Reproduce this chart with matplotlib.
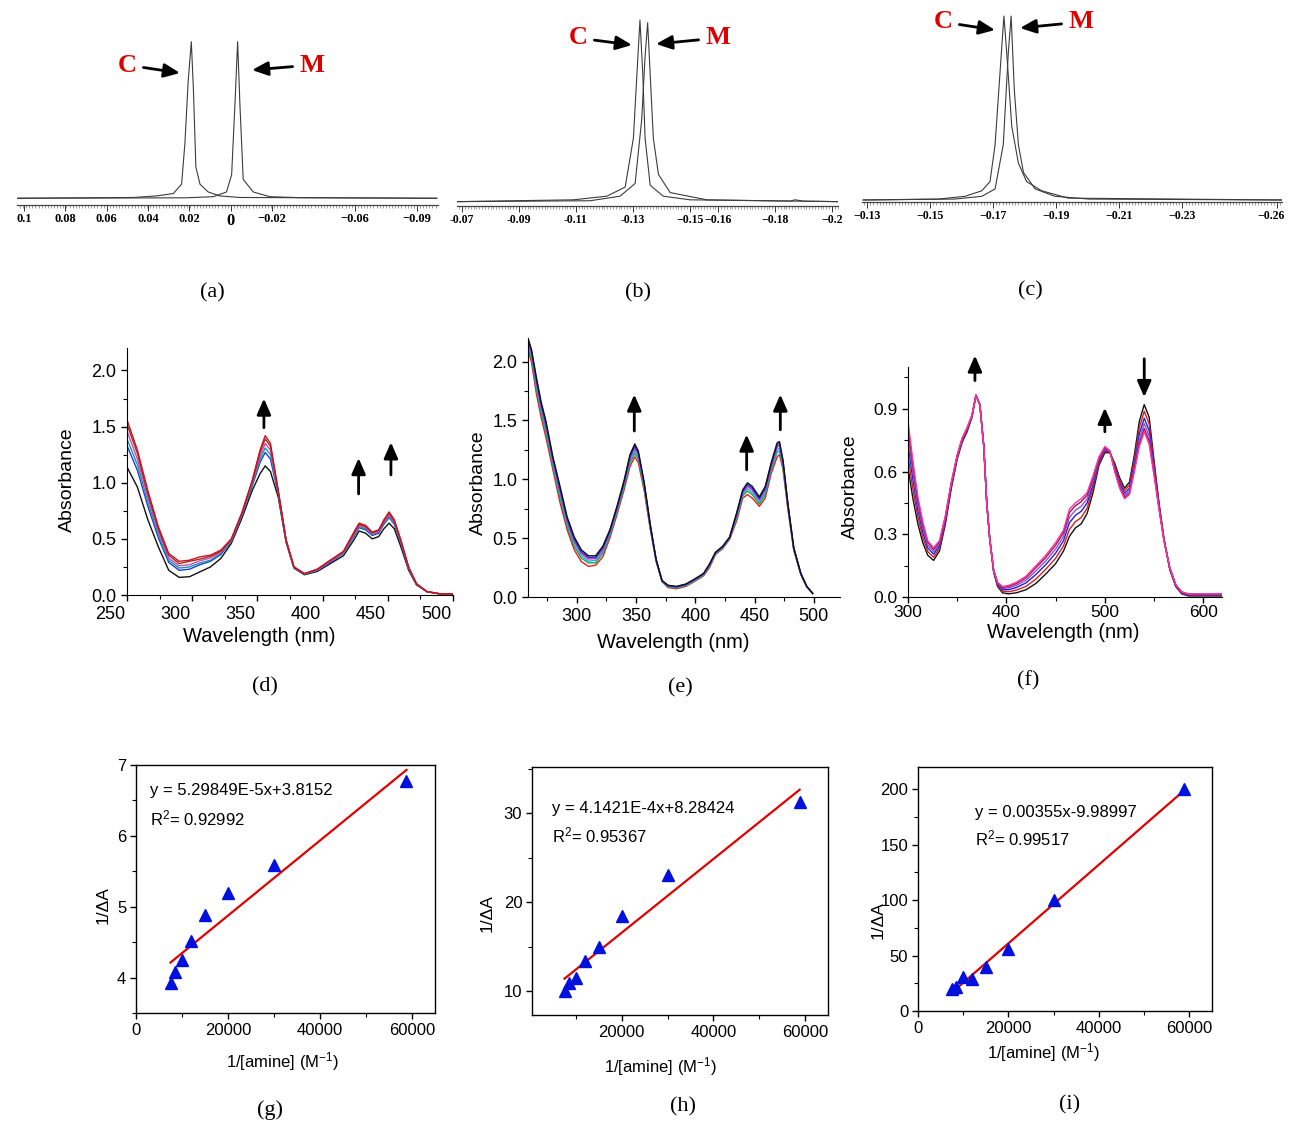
import matplotlib
matplotlib.use("Agg")
import matplotlib.pyplot as plt
from matplotlib.ticker import MultipleLocator, FixedLocator, FormatStrFormatter
from matplotlib.transforms import ScaledTranslation

W, H = 1289, 1126

# ---------------- (a)-(c): NMR traces, shift in ppm vs relative intensity ----------------
a_c_ppm = [0.1036, 0.0472, 0.0359, 0.0278, 0.0238, 0.0222, 0.0206, 0.0191, 0.0181, 0.0169,
           0.0149, 0.0109, 0.0053, -0.0044, -0.0996]
a_c_int = [0.0, 0.005, 0.015, 0.03, 0.09, 0.35, 0.75, 1.0, 0.7, 0.2, 0.09, 0.04, 0.015, 0.005, 0.0]
a_m_ppm = [0.1036, 0.0214, 0.0085, 0.0021, -0.0004, -0.002, -0.0033, -0.0044, -0.006, -0.0109,
           -0.0189, -0.0334, -0.0996]
a_m_int = [0.0, 0.003, 0.01, 0.04, 0.15, 0.6, 1.0, 0.6, 0.12, 0.04, 0.01, 0.004, 0.0]

b_c_ppm = [-0.0681, -0.1091, -0.1208, -0.1273, -0.1302, -0.1316, -0.1325, -0.1335, -0.1343,
           -0.1361, -0.1407, -0.1501, -0.2022]
b_c_int = [0.0, 0.01, 0.03, 0.08, 0.35, 0.75, 1.0, 0.7, 0.35, 0.09, 0.03, 0.01, 0.0]
b_m_ppm = [-0.0681, -0.115, -0.1255, -0.1308, -0.1331, -0.1343, -0.1352, -0.1361, -0.1372,
           -0.139, -0.1431, -0.156, -0.1852, -0.187, -0.19, -0.2022]
b_m_int = [0.0, 0.005, 0.03, 0.1, 0.45, 0.8, 0.985, 0.7, 0.35, 0.15, 0.05, 0.01, 0.003, 0.01,
           0.003, 0.0]

c_c_ppm = [-0.1288, -0.1526, -0.1611, -0.1664, -0.169, -0.1706, -0.1722, -0.1734, -0.1743,
           -0.1759, -0.178, -0.1806, -0.1854, -0.1938, -0.2615]
c_c_int = [0.0, 0.005, 0.02, 0.05, 0.1, 0.3, 0.7, 1.0, 0.8, 0.4, 0.2, 0.1, 0.05, 0.01, 0.0]
c_m_ppm = [-0.1288, -0.1579, -0.1664, -0.1706, -0.1732, -0.1748, -0.1757, -0.1767, -0.178,
           -0.1796, -0.1833, -0.1896, -0.2002, -0.2615]
c_m_int = [0.0, 0.005, 0.02, 0.06, 0.3, 0.8, 1.0, 0.6, 0.3, 0.15, 0.06, 0.02, 0.005, 0.0]

a_ticks = [0.1, 0.08, 0.06, 0.04, 0.02, 0, -0.02, -0.06, -0.09]
a_labels = ["0.1", "0.08", "0.06", "0.04", "0.02", "0", "\u22120.02", "\u22120.06", "\u22120.09"]
b_ticks = [-0.07, -0.09, -0.11, -0.13, -0.15, -0.16, -0.18, -0.2]
b_labels = ["-0.07", "-0.09", "-0.11", "-0.13", "\u22120.15", "\u22120.16", "\u22120.18", "\u22120.2"]
c_ticks = [-0.13, -0.15, -0.17, -0.19, -0.21, -0.23, -0.26]
c_labels = ["\u22120.13", "\u22120.15", "\u22120.17", "\u22120.19", "\u22120.21", "\u22120.23", "\u22120.26"]

# ---------------- (d): UV-vis titration ----------------
wl_d = [250, 258, 266, 274, 282, 290, 298, 306, 314, 322, 330, 338, 346, 352, 356, 360, 366,
        372, 378, 386, 396, 406, 416, 424, 428, 433, 438, 443, 447, 451, 455, 460, 466, 472,
        480, 490, 500]
d_black = [1.14, 0.96, 0.67, 0.43, 0.22, 0.157, 0.163, 0.207, 0.25, 0.326, 0.46, 0.68, 0.93,
           1.08, 1.15, 1.10, 0.87, 0.47, 0.24, 0.18, 0.21, 0.28, 0.35, 0.49, 0.57, 0.55, 0.50,
           0.52, 0.59, 0.64, 0.59, 0.43, 0.22, 0.09, 0.03, 0.01, 0.01]
d_blue = [1.33, 1.11, 0.79, 0.51, 0.29, 0.22, 0.23, 0.27, 0.30, 0.36, 0.48, 0.70, 0.97, 1.18,
          1.27, 1.21, 0.90, 0.48, 0.245, 0.185, 0.22, 0.29, 0.37, 0.52, 0.60, 0.58, 0.53, 0.55,
          0.63, 0.69, 0.63, 0.46, 0.23, 0.095, 0.03, 0.01, 0.01]
d_teal = [1.39, 1.16, 0.83, 0.54, 0.31, 0.24, 0.25, 0.285, 0.31, 0.37, 0.48, 0.71, 0.98, 1.21,
          1.31, 1.25, 0.91, 0.48, 0.245, 0.185, 0.22, 0.30, 0.37, 0.53, 0.61, 0.59, 0.54, 0.56,
          0.64, 0.70, 0.64, 0.47, 0.24, 0.095, 0.03, 0.01, 0.01]
d_magenta = [1.46, 1.21, 0.87, 0.57, 0.33, 0.26, 0.27, 0.305, 0.33, 0.38, 0.49, 0.72, 1.00,
             1.24, 1.35, 1.29, 0.915, 0.485, 0.25, 0.19, 0.225, 0.30, 0.38, 0.54, 0.62, 0.60,
             0.545, 0.565, 0.65, 0.715, 0.65, 0.475, 0.24, 0.10, 0.03, 0.01, 0.01]
d_brown = [1.52, 1.26, 0.90, 0.59, 0.355, 0.28, 0.30, 0.32, 0.345, 0.39, 0.495, 0.725, 1.01,
           1.27, 1.39, 1.325, 0.925, 0.49, 0.25, 0.19, 0.23, 0.31, 0.385, 0.55, 0.63, 0.61,
           0.555, 0.575, 0.66, 0.73, 0.66, 0.485, 0.245, 0.10, 0.03, 0.01, 0.01]
d_red = [1.56, 1.29, 0.93, 0.61, 0.37, 0.30, 0.31, 0.34, 0.355, 0.40, 0.50, 0.73, 1.02, 1.29,
         1.42, 1.35, 0.93, 0.49, 0.25, 0.19, 0.23, 0.31, 0.39, 0.56, 0.64, 0.62, 0.56, 0.58,
         0.67, 0.74, 0.67, 0.49, 0.25, 0.10, 0.03, 0.01, 0.01]
d_curves = [d_black, d_blue, d_teal, d_magenta, d_brown, d_red]
d_colors = ["#111111", "#1c3fd8", "#139c9c", "#e040c0", "#8b3a1a", "#d01020"]
d_arrows = [(355, 1.49, 1.75), (427.6, 0.90, 1.22), (452.4, 1.07, 1.36)]

# ---------------- (e) ----------------
wl_e = [259, 262, 266, 270, 274, 280, 286, 292, 298, 304, 310, 316, 322, 328, 334, 340, 345,
        349, 352, 357, 362, 367, 372, 377, 384, 392, 399, 407, 412, 417, 423, 429, 435, 440,
        444, 448, 454, 459, 464, 469, 471, 474, 478, 483, 489, 494, 499]
e_red = [2.10, 1.99, 1.73, 1.53, 1.36, 1.08, 0.80, 0.57, 0.40, 0.30, 0.26, 0.27, 0.34, 0.50,
         0.70, 0.91, 1.11, 1.19, 1.14, 0.90, 0.58, 0.30, 0.13, 0.08, 0.07, 0.09, 0.13, 0.18,
         0.25, 0.36, 0.41, 0.49, 0.65, 0.84, 0.87, 0.84, 0.77, 0.84, 1.05, 1.19, 1.21, 1.08,
         0.75, 0.40, 0.19, 0.085, 0.03]
e_green = [2.13, 2.02, 1.77, 1.57, 1.40, 1.11, 0.84, 0.60, 0.43, 0.33, 0.29, 0.29, 0.37, 0.52,
           0.72, 0.93, 1.14, 1.22, 1.17, 0.92, 0.59, 0.31, 0.13, 0.086, 0.076, 0.096, 0.136,
           0.186, 0.26, 0.366, 0.416, 0.496, 0.67, 0.86, 0.90, 0.87, 0.79, 0.87, 1.08, 1.23,
           1.24, 1.10, 0.765, 0.406, 0.193, 0.087, 0.03]
e_cyan = [2.15, 2.045, 1.80, 1.595, 1.43, 1.135, 0.87, 0.625, 0.455, 0.35, 0.305, 0.31, 0.385,
          0.535, 0.735, 0.95, 1.16, 1.245, 1.19, 0.935, 0.60, 0.31, 0.135, 0.09, 0.08, 0.10,
          0.14, 0.19, 0.265, 0.37, 0.42, 0.50, 0.685, 0.875, 0.92, 0.89, 0.81, 0.89, 1.095,
          1.25, 1.265, 1.12, 0.775, 0.41, 0.195, 0.0875, 0.03]
e_magenta = [2.17, 2.067, 1.828, 1.621, 1.458, 1.157, 0.898, 0.647, 0.477, 0.37, 0.323, 0.326,
             0.403, 0.549, 0.749, 0.966, 1.18, 1.267, 1.21, 0.949, 0.608, 0.314, 0.137, 0.094,
             0.084, 0.104, 0.144, 0.194, 0.271, 0.374, 0.424, 0.504, 0.699, 0.889, 0.94, 0.91,
             0.826, 0.91, 1.113, 1.274, 1.287, 1.136, 0.785, 0.414, 0.197, 0.0885, 0.03]
e_blue = [2.185, 2.084, 1.849, 1.64, 1.479, 1.174, 0.919, 0.664, 0.494, 0.385, 0.337, 0.338,
          0.417, 0.56, 0.76, 0.978, 1.195, 1.284, 1.225, 0.96, 0.614, 0.317, 0.138, 0.097,
          0.087, 0.107, 0.147, 0.197, 0.275, 0.377, 0.427, 0.507, 0.71, 0.90, 0.955, 0.925,
          0.838, 0.925, 1.127, 1.292, 1.304, 1.148, 0.792, 0.417, 0.198, 0.089, 0.03]
e_black = [2.20, 2.10, 1.87, 1.66, 1.50, 1.19, 0.94, 0.68, 0.51, 0.40, 0.35, 0.35, 0.43, 0.57,
           0.77, 0.99, 1.21, 1.30, 1.24, 0.97, 0.62, 0.32, 0.14, 0.10, 0.09, 0.11, 0.15, 0.20,
           0.28, 0.38, 0.43, 0.51, 0.72, 0.91, 0.97, 0.94, 0.85, 0.94, 1.14, 1.31, 1.32, 1.16,
           0.80, 0.42, 0.20, 0.09, 0.03]
e_curves = [e_red, e_green, e_cyan, e_magenta, e_blue, e_black]
e_colors = ["#e02020", "#20a040", "#20b0e0", "#d020d0", "#2030d0", "#111111"]
e_arrows = [(348.6, 1.41, 1.72), (443.3, 1.08, 1.38), (471.7, 1.42, 1.72)]

# ---------------- (f) ----------------
wl_f = [300, 305, 310, 315, 320, 326, 332, 338, 344, 350, 355, 360, 365, 369, 373, 377, 380,
        383, 387, 391, 396, 402, 410, 420, 430, 440, 450, 458, 464, 470, 476, 482, 488, 494,
        500, 505, 510, 515, 520, 525, 530, 535, 540, 545, 550, 555, 560, 566, 572, 578, 585,
        600, 619]
f_black = [0.62, 0.47, 0.35, 0.26, 0.20, 0.175, 0.22, 0.35, 0.52, 0.66, 0.74, 0.79, 0.86,
           0.965, 0.92, 0.72, 0.45, 0.28, 0.12, 0.05, 0.02, 0.015, 0.02, 0.035, 0.065, 0.11,
           0.16, 0.22, 0.29, 0.33, 0.35, 0.40, 0.50, 0.63, 0.69, 0.69, 0.64, 0.57, 0.52, 0.55,
           0.68, 0.84, 0.92, 0.86, 0.65, 0.45, 0.28, 0.13, 0.05, 0.015, 0.005, 0.005, 0.005]
f_red = [0.675, 0.515, 0.383, 0.285, 0.218, 0.19, 0.233, 0.36, 0.528, 0.665, 0.745, 0.795,
         0.863, 0.965, 0.92, 0.72, 0.45, 0.28, 0.123, 0.055, 0.028, 0.025, 0.033, 0.051, 0.086,
         0.133, 0.185, 0.245, 0.323, 0.36, 0.38, 0.425, 0.52, 0.64, 0.698, 0.693, 0.63, 0.558,
         0.508, 0.535, 0.66, 0.81, 0.888, 0.828, 0.633, 0.443, 0.278, 0.133, 0.053, 0.018,
         0.008, 0.008, 0.008]
f_blue = [0.73, 0.56, 0.415, 0.31, 0.235, 0.205, 0.245, 0.37, 0.535, 0.67, 0.75, 0.80, 0.865,
          0.965, 0.92, 0.72, 0.45, 0.28, 0.125, 0.06, 0.035, 0.035, 0.045, 0.068, 0.108, 0.155,
          0.21, 0.27, 0.355, 0.39, 0.41, 0.45, 0.54, 0.65, 0.705, 0.695, 0.62, 0.545, 0.495,
          0.52, 0.64, 0.78, 0.855, 0.795, 0.615, 0.435, 0.275, 0.135, 0.055, 0.02, 0.01, 0.01,
          0.01]
f_violet = [0.774, 0.596, 0.441, 0.33, 0.249, 0.217, 0.255, 0.378, 0.541, 0.674, 0.754, 0.804,
            0.867, 0.965, 0.92, 0.72, 0.45, 0.28, 0.127, 0.064, 0.041, 0.043, 0.055, 0.081,
            0.125, 0.173, 0.23, 0.29, 0.381, 0.414, 0.434, 0.47, 0.556, 0.658, 0.711, 0.697,
            0.612, 0.535, 0.485, 0.508, 0.624, 0.756, 0.829, 0.769, 0.601, 0.429, 0.273, 0.137,
            0.057, 0.022, 0.012, 0.012, 0.012]
f_maroon = [0.814, 0.628, 0.464, 0.348, 0.262, 0.228, 0.264, 0.385, 0.546, 0.678, 0.758, 0.808,
            0.869, 0.965, 0.92, 0.72, 0.45, 0.28, 0.129, 0.068, 0.046, 0.05, 0.064, 0.092,
            0.14, 0.189, 0.248, 0.308, 0.404, 0.436, 0.456, 0.488, 0.57, 0.665, 0.716, 0.699,
            0.605, 0.526, 0.476, 0.497, 0.61, 0.734, 0.806, 0.746, 0.588, 0.424, 0.271, 0.139,
            0.059, 0.024, 0.014, 0.014, 0.014]
f_pink = [0.84, 0.65, 0.48, 0.36, 0.27, 0.235, 0.27, 0.39, 0.55, 0.68, 0.76, 0.81, 0.87, 0.965,
          0.92, 0.72, 0.45, 0.28, 0.13, 0.07, 0.05, 0.055, 0.07, 0.10, 0.15, 0.20, 0.26, 0.32,
          0.42, 0.45, 0.47, 0.50, 0.58, 0.67, 0.72, 0.70, 0.60, 0.52, 0.47, 0.49, 0.60, 0.72,
          0.79, 0.73, 0.58, 0.42, 0.27, 0.14, 0.06, 0.025, 0.015, 0.015, 0.015]
f_curves = [f_black, f_red, f_blue, f_violet, f_maroon, f_pink]
f_colors = ["#111111", "#d62020", "#2020e0", "#9050d0", "#a0105a", "#ff3399"]
f_arrows = [(368, 1.035, 1.155), (500, 0.79, 0.905), (540, 1.139, 0.956)]

# ---------------- (g)-(i): double reciprocal plots ----------------
inv_amine = [7500, 8500, 10000, 12000, 15000, 20000, 30000, 58800]
g_inv_dA = [3.92, 4.08, 4.25, 4.52, 4.88, 5.19, 5.59, 6.78]
h_inv_dA = [10.0, 10.9, 11.5, 13.4, 14.9, 18.4, 23.0, 31.3]
i_inv_dA = [19.4, 22.0, 30.8, 28.7, 40.0, 56.0, 100.0, 200.0]
g_fit = (5.29849e-5, 3.8152)
h_fit = (4.1421e-4, 8.28424)
i_fit = (0.00355, -9.98997)
g_eq = ["y = 5.29849E-5x+3.8152", "R$^2$= 0.92992"]
h_eq = ["y = 4.1421E-4x+8.28424", "R$^2$= 0.95367"]
i_eq = ["y = 0.00355x-9.98997", "R$^2$= 0.99517"]

captions = ["(a)", "(b)", "(c)", "(d)", "(e)", "(f)", "(g)", "(h)", "(i)"]

plt.rcParams["font.family"] = ["Liberation Sans", "DejaVu Sans"]
plt.rcParams["mathtext.fontset"] = "custom"
plt.rcParams["mathtext.rm"] = "Liberation Sans"
plt.rcParams["mathtext.it"] = "Liberation Sans:italic"
plt.rcParams["mathtext.bf"] = "Liberation Sans:bold"


def px_axes(fig, left, top, right, bottom):
    return fig.add_axes([left / W, 1 - bottom / H, (right - left) / W, (bottom - top) / H])


def fxy(px, py):
    return (px / W, 1 - py / H)


def label_xy(box, px, py):
    left, top, right, bottom = box
    return (px - left) / (right - left), (bottom - py) / (bottom - top)


def shift_label(fig, lbl, dx_px):
    off = ScaledTranslation(dx_px / 100, 0, fig.dpi_scale_trans)
    lbl.set_transform(lbl.get_transform() + off)


def draw_nmr(fig, box, xlim, ylim, traces, ticks, labels, minor, size=9):
    ax = px_axes(fig, *box)
    for ppm, inten in traces:
        ax.plot(ppm, inten, color="#3c3c3c", lw=0.8)
    ax.set_xlim(*xlim)
    ax.set_ylim(*ylim)
    for s in ("left", "right", "top"):
        ax.spines[s].set_visible(False)
    ax.spines["bottom"].set_color("#444444")
    ax.spines["bottom"].set_linewidth(0.9)
    ax.set_yticks([])
    ax.xaxis.set_major_locator(FixedLocator(ticks))
    ax.set_xticklabels(labels, family="Liberation Serif", weight="bold", size=size)
    ax.xaxis.set_minor_locator(MultipleLocator(minor))
    ax.tick_params(axis="x", which="major", length=4, width=0.7, pad=2, color="#333333")
    ax.tick_params(axis="x", which="minor", length=2, width=0.5, color="#777777")
    ax.patch.set_alpha(0)
    return ax


def cm_labels(ax, c_text, c_tip, m_text, m_tip):
    style = dict(arrowstyle="-|>,head_length=0.8,head_width=0.35", color="black", lw=2,
                 mutation_scale=12, shrinkA=3, shrinkB=0)
    kw = dict(xycoords="figure fraction", textcoords="figure fraction", ha="center",
              va="center", color="#dd0000", family="Liberation Serif", weight="bold",
              size=19, annotation_clip=False)
    ax.annotate("C", xy=fxy(*c_tip), xytext=fxy(*c_text), arrowprops=style, **kw)
    ax.annotate("M", xy=fxy(*m_tip), xytext=fxy(*m_text), arrowprops=style, **kw)


def draw_uv(fig, box, wl, curves, colors, xlim, ylim, xmaj, xmin, ymaj, ymin, arrows,
            xlab_px, ylab_px, tick_shift=0, tick_size=13, tick_pad=4):
    ax = px_axes(fig, *box)
    for ys, c in zip(curves, colors):
        ax.plot(wl, ys, color=c, lw=1.0)
    ax.set_xlim(*xlim)
    ax.set_ylim(*ylim)
    ax.spines["top"].set_visible(False)
    ax.spines["right"].set_visible(False)
    ax.xaxis.set_major_locator(MultipleLocator(xmaj))
    ax.xaxis.set_minor_locator(MultipleLocator(xmin))
    ax.yaxis.set_major_locator(MultipleLocator(ymaj))
    ax.yaxis.set_minor_locator(MultipleLocator(ymin))
    ax.yaxis.set_major_formatter(FormatStrFormatter("%.1f"))
    ax.tick_params(which="major", direction="out", length=4, width=1, labelsize=tick_size)
    ax.tick_params(axis="x", which="major", pad=tick_pad)
    ax.tick_params(which="minor", direction="out", length=3, width=0.8)
    for x, base, tip in arrows:
        ax.annotate("", xy=(x, tip), xytext=(x, base), annotation_clip=False,
                    arrowprops=dict(arrowstyle="-|>,head_length=0.8,head_width=0.35",
                                    color="black", lw=2, mutation_scale=12,
                                    shrinkA=0, shrinkB=0))
    ax.set_xlabel("Wavelength (nm)", fontsize=14.5, ha="center", va="center")
    ax.set_ylabel("Absorbance", fontsize=14, ha="center", va="center")
    ax.xaxis.set_label_coords(*label_xy(box, *xlab_px))
    ax.yaxis.set_label_coords(*label_xy(box, *ylab_px))
    if tick_shift:
        fig.canvas.draw()
        for lbl in ax.get_xticklabels():
            shift_label(fig, lbl, tick_shift)
    return ax


def draw_fit(fig, box, x, y, fit, eq, xlim, ylim, ymaj, ymin, text_px, xlab_px, ylab_px):
    ax = px_axes(fig, *box)
    slope, icpt = fit
    xs = [x[0], x[-1]]
    ax.plot(xs, [slope * v + icpt for v in xs], color="#e00000", lw=1.6, zorder=2)
    ax.plot(x, y, linestyle="none", marker="^", ms=8, color="#0010dd", zorder=3)
    ax.set_xlim(*xlim)
    ax.set_ylim(*ylim)
    ax.xaxis.set_major_locator(MultipleLocator(20000))
    ax.xaxis.set_minor_locator(MultipleLocator(10000))
    ax.yaxis.set_major_locator(MultipleLocator(ymaj))
    ax.yaxis.set_minor_locator(MultipleLocator(ymin))
    ax.tick_params(which="major", direction="out", length=4, width=1, labelsize=12, pad=3)
    ax.tick_params(which="minor", direction="out", length=3, width=0.8)
    for s in ax.spines.values():
        s.set_linewidth(1.0)
    tx, ty1, ty2 = text_px
    ax.text(*label_xy(box, tx, ty1), eq[0], transform=ax.transAxes, fontsize=12, va="center")
    ax.text(*label_xy(box, tx, ty2), eq[1], transform=ax.transAxes, fontsize=12, va="center")
    ax.set_xlabel("1/[amine] (M$^{-1}$)", fontsize=12, ha="center", va="center")
    ax.set_ylabel("1/\u0394A", fontsize=12.5, ha="center", va="center")
    ax.xaxis.set_label_coords(*label_xy(box, *xlab_px))
    ax.yaxis.set_label_coords(*label_xy(box, *ylab_px))
    return ax


def main() -> None:
    fig = plt.figure(figsize=(W / 100, H / 100), dpi=100)

    # NMR panels
    ax_a = draw_nmr(fig, (17, 10, 438, 205), (0.1034, -0.1002), (-0.043, 1.202),
                    [(a_c_ppm, a_c_int), (a_m_ppm, a_m_int)], a_ticks, a_labels, 0.0015)
    for lbl, t in zip(ax_a.get_xticklabels(), a_labels):
        if t == "0":
            lbl.set_fontsize(12)
    cm_labels(ax_a, (127, 65), (180, 73), (312, 65), (252, 70))

    ax_b = draw_nmr(fig, (457, 5, 838, 206), (-0.0682, -0.2021), (-0.024, 1.083),
                    [(b_c_ppm, b_c_int), (b_m_ppm, b_m_int)], b_ticks, b_labels, 0.001,
                    size=8.5)
    cm_labels(ax_b, (578, 38), (632, 45), (718, 38), (656, 44))

    ax_c = draw_nmr(fig, (862, 5, 1282, 202), (-0.1284, -0.2616), (-0.011, 1.06),
                    [(c_c_ppm, c_c_int), (c_m_ppm, c_m_int)], c_ticks, c_labels, 0.001,
                    size=8.5)
    cm_labels(ax_c, (943, 22), (995, 30), (1081, 22), (1020, 28))
    fig.canvas.draw()
    shift_label(fig, ax_c.get_xticklabels()[-1], -6)

    # UV-vis panels
    draw_uv(fig, (127, 348, 453, 595), wl_d, d_curves, d_colors, (250, 500), (0, 2.2),
            50, 25, 0.5, 0.25, d_arrows, (259, 637), (67, 480), tick_shift=-17)
    draw_uv(fig, (528, 338, 840, 597), wl_e, e_curves, e_colors, (259, 522), (0, 2.2),
            50, 25, 0.5, 0.25, e_arrows, (673, 643), (478, 483))
    draw_uv(fig, (908, 367, 1222, 597), wl_f, f_curves, f_colors, (300, 619), (0, 1.1),
            100, 50, 0.3, 0.15, f_arrows, (1063, 633), (850, 487), tick_size=12.5, tick_pad=1.5)

    # double reciprocal fits
    draw_fit(fig, (136, 765, 435, 1013), inv_amine, g_inv_dA, g_fit, g_eq, (0, 65000),
             (3.5, 7.0), 1, 0.5, (150, 790, 818), (282, 1062), (103, 905))
    draw_fit(fig, (532, 767, 828, 1015), inv_amine, h_inv_dA, h_fit, h_eq, (400, 65000),
             (7.3, 35.2), 10, 5, (552, 809, 835), (660, 1067), (487, 913))
    draw_fit(fig, (918, 767, 1212, 1011), inv_amine, i_inv_dA, i_fit, i_eq, (0, 65000),
             (0, 220), 50, 25, (975, 813, 838), (1043, 1053), (878, 920))

    cap_px = [(212, 293), (638, 293), (1030, 291), (265, 687), (680, 688), (1028, 681),
              (270, 1110), (683, 1107), (1070, 1105)]
    for text, (px, py) in zip(captions, cap_px):
        fig.text(*fxy(px, py), text, ha="center", va="center", family="Liberation Serif",
                 fontsize=16)

    fig.savefig("out.png", dpi=100)
    plt.close(fig)


if __name__ == "__main__":
    main()
